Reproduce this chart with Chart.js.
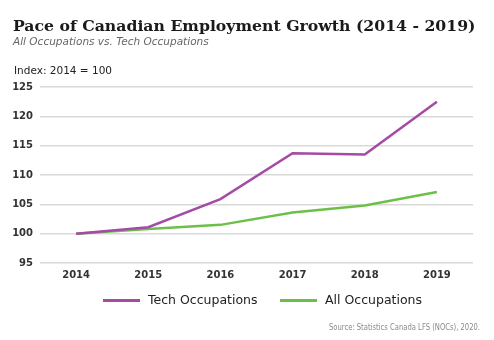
<!DOCTYPE html>
<html>
<head>
<meta charset="utf-8">
<script src="https://cdn.jsdelivr.net/npm/chart.js@4.4.1/dist/chart.umd.min.js"></script>
<style>
  html, body { margin: 0; padding: 0; background: #fff; }
  #wrap { position: relative; width: 494px; height: 340px; }
</style>
</head>
<body>
<div id="wrap"><canvas id="c" width="494" height="340"></canvas></div>
<script>
// Employment index, 2014 = 100
const years = ['2014', '2015', '2016', '2017', '2018', '2019'];
const techOccupations = [100, 101.1, 105.9, 113.7, 113.5, 122.5];
const allOccupations = [100, 100.8, 101.5, 103.6, 104.8, 107.1];
const yTicks = [95, 100, 105, 110, 115, 120, 125];

const PURPLE = '#a54aa5';
const GREEN = '#6cc04a';
const SANS = '"DejaVu Sans", sans-serif';

// Headline, subtitle, axis note, legend and source line
const textPlugin = {
  id: 'headerText',
  afterDraw(chart) {
    const ctx = chart.ctx;
    ctx.save();
    ctx.textBaseline = 'alphabetic';
    ctx.textAlign = 'left';
    ctx.fillStyle = '#1a1a1a';
    ctx.font = 'bold 15.7px "DejaVu Serif", serif';
    ctx.fillText('Pace of Canadian Employment Growth (2014 - 2019)', 13, 31);
    ctx.fillStyle = '#666';
    ctx.font = 'italic 10.5px ' + SANS;
    ctx.fillText('All Occupations vs. Tech Occupations', 13, 45);
    ctx.fillStyle = '#222';
    ctx.font = '10.5px ' + SANS;
    ctx.fillText('Index: 2014 = 100', 14, 74);

    // legend: line sample followed by series name
    const legendX = [103, 280];
    ctx.font = '12.5px ' + SANS;
    chart.data.datasets.forEach((ds, i) => {
      const x = legendX[i];
      ctx.fillStyle = ds.borderColor;
      ctx.fillRect(x, 299, 37, 3);
      ctx.fillStyle = '#222';
      ctx.textBaseline = 'middle';
      ctx.fillText(ds.label, x + 45, 301);
    });

    // source line in a tightly condensed face
    const src = 'Source: Statistics Canada LFS (NOCs), 2020.';
    ctx.textBaseline = 'alphabetic';
    ctx.textAlign = 'left';
    ctx.fillStyle = '#8a8a8a';
    ctx.font = '9.5px "Liberation Sans Narrow", "DejaVu Sans Condensed", sans-serif';
    const w = ctx.measureText(src).width;
    const sx = 151 / w;
    ctx.translate(329, 330);
    ctx.scale(sx, 1);
    ctx.fillText(src, 0, 0);
    ctx.restore();
  }
};

new Chart(document.getElementById('c'), {
  type: 'line',
  data: {
    labels: years,
    datasets: [
      {
        label: 'Tech Occupations',
        data: techOccupations,
        borderColor: PURPLE,
        backgroundColor: PURPLE,
        borderWidth: 2.5,
        pointRadius: 0,
        tension: 0
      },
      {
        label: 'All Occupations',
        data: allOccupations,
        borderColor: GREEN,
        backgroundColor: GREEN,
        borderWidth: 2.5,
        pointRadius: 0,
        tension: 0
      }
    ]
  },
  options: {
    responsive: false,
    animation: false,
    layout: { padding: { top: 87, right: 21, left: 0, bottom: 57 } },
    plugins: {
      title: { display: false },
      tooltip: { enabled: false },
      legend: { display: false }
    },
    scales: {
      x: {
        offset: true,
        afterFit(scale) { scale.height = 20; },
        grid: { display: false, drawTicks: false },
        border: { display: false },
        ticks: {
          color: '#333',
          padding: 6,
          font: { family: SANS, size: 10, weight: 'bold' }
        }
      },
      y: {
        min: 95,
        max: 125,
        afterFit(scale) { scale.width = 40; },
        afterBuildTicks(scale) { scale.ticks = yTicks.map(v => ({ value: v })); },
        grid: { color: '#d9d9d9', lineWidth: 1.5, drawTicks: false },
        border: { display: false },
        ticks: {
          color: '#333',
          padding: 7,
          font: { family: SANS, size: 10, weight: 'bold' }
        }
      }
    }
  },
  plugins: [textPlugin]
});
</script>
</body>
</html>
